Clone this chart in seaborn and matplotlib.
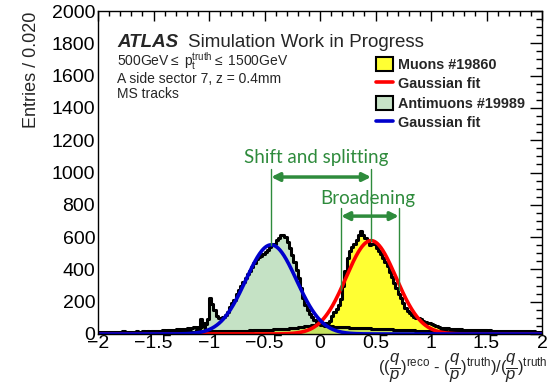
import numpy as np
import pandas as pd
import seaborn as sns
import matplotlib
matplotlib.use("Agg")
import matplotlib.pyplot as plt
from matplotlib.patches import Patch
from matplotlib.lines import Line2D
from matplotlib.ticker import MultipleLocator

# ---------------- data ----------------
x_min, x_max, n_bins = -2.0, 2.0, 200   # bins of 0.020

antimuon_counts = [
    12, 10, 14, 11, 13, 12, 15, 11, 13, 14,
    12, 16, 13, 14, 12, 15, 14, 17, 13, 15,
    16, 14, 18, 15, 17, 18, 16, 20, 19, 22,
    21, 24, 22, 26, 25, 28, 30, 27, 32, 34,
    36, 33, 38, 42, 40, 44, 46, 48, 60, 95,
    220, 185, 150, 112, 96, 100, 106, 116, 135, 170,
    195, 212, 250, 272, 295, 325, 345, 370, 392, 412,
    440, 462, 474, 482, 496, 510, 522, 540, 550, 555,
    580, 596, 612, 610, 598, 570, 535, 490, 445, 395,
    345, 282, 225, 180, 150, 125, 105, 88, 72, 62,
    56, 54, 52, 50, 48, 47, 46, 45, 44, 43,
    42, 42, 41, 40, 40, 39, 38, 38, 37, 36,
    36, 35, 35, 34, 33, 33, 32, 31, 31, 30,
    29, 29, 28, 27, 27, 26, 25, 25, 24, 24,
    23, 22, 22, 21, 21, 20, 20, 19, 19, 18,
    18, 17, 17, 16, 16, 15, 16, 15, 14, 15,
    14, 13, 14, 13, 12, 13, 12, 11, 12, 11,
    11, 10, 11, 10, 9, 10, 9, 10, 9, 8,
    9, 8, 9, 8, 7, 8, 7, 8, 7, 7,
    7, 6, 7, 6, 6, 7, 6, 5, 6, 5,
]

muon_counts = [
    4, 5, 3, 4, 5, 4, 3, 5, 4, 4,
    5, 4, 5, 6, 4, 5, 6, 5, 4, 6,
    5, 6, 7, 6, 5, 7, 6, 7, 8, 7,
    8, 7, 9, 8, 9, 10, 9, 11, 10, 12,
    12, 13, 14, 15, 22, 30, 90, 70, 25, 18,
    16, 15, 16, 15, 17, 16, 17, 18, 17, 18,
    18, 19, 18, 20, 19, 20, 21, 20, 22, 21,
    22, 23, 22, 24, 25, 24, 26, 27, 26, 28,
    29, 30, 31, 32, 33, 34, 36, 37, 39, 40,
    42, 44, 46, 48, 50, 52, 55, 57, 59, 60,
    62, 64, 66, 70, 78, 110, 135, 155, 180, 215,
    300, 390, 470, 515, 540, 560, 585, 610, 635, 615,
    595, 580, 550, 555, 560, 535, 515, 495, 470, 445,
    420, 385, 350, 315, 285, 250, 220, 190, 160, 140,
    128, 118, 108, 100, 96, 90, 80, 75, 70, 66,
    62, 55, 48, 44, 40, 38, 36, 35, 34, 33,
    32, 30, 30, 28, 27, 26, 25, 26, 24, 24,
    23, 24, 22, 23, 22, 21, 22, 21, 20, 21,
    20, 19, 20, 19, 18, 19, 18, 18, 17, 18,
    17, 16, 17, 16, 16, 15, 16, 15, 15, 14,
]

# Gaussian fit parameters (amplitude, mean, sigma)
muon_fit = (578.0, 0.46, 0.225)
antimuon_fit = (552.0, -0.44, 0.228)

legend_labels = ["Muons #19860", "Gaussian fit", "Antimuons #19989", "Gaussian fit"]
x_ticks = [-2, -1.5, -1, -0.5, 0, 0.5, 1, 1.5, 2]
x_tick_labels = ["\u22122", "\u22121.5", "\u22121", "\u22120.5", "0", "0.5", "1", "1.5", "2"]
y_ticks = [0, 200, 400, 600, 800, 1000, 1200, 1400, 1600, 1800, 2000]

# ---------------- style ----------------
sns.set_style("white")
plt.rcParams["font.family"] = ["Liberation Sans", "DejaVu Sans"]
plt.rcParams["mathtext.fontset"] = "custom"
plt.rcParams["mathtext.rm"] = "Liberation Sans"
plt.rcParams["mathtext.it"] = "Liberation Sans:italic"
plt.rcParams["mathtext.bf"] = "Liberation Sans:bold"

W, H = 548, 383
fig = plt.figure(figsize=(W / 100, H / 100), dpi=100)
L, R, T, B = 98, 542, 11, 334
ax = fig.add_axes([L / W, 1 - B / H, (R - L) / W, (B - T) / H])

width = (x_max - x_min) / n_bins
centers = x_min + width * (np.arange(n_bins) + 0.5)
df = pd.DataFrame({"x": centers,
                   "mu": np.asarray(muon_counts, float),
                   "amu": np.asarray(antimuon_counts, float)})

yellow = "#ffff33"
green_face = (0.55, 0.78, 0.55)
hkw = dict(data=df, x="x", bins=n_bins, binrange=(x_min, x_max), element="step", ax=ax)

# muons: fill + outline
sns.histplot(weights="mu", fill=True, color=yellow, alpha=1.0, linewidth=0, **hkw)
sns.histplot(weights="mu", fill=False, color="black", linewidth=2.2, **hkw)
# antimuons: fill + outline
sns.histplot(weights="amu", fill=True, color=green_face, alpha=0.5, linewidth=0, **hkw)
sns.histplot(weights="amu", fill=False, color="black", linewidth=2.2, **hkw)

# Gaussian fits
xf = np.linspace(x_min, x_max, 801)
def gauss(x, p):
    a, m, s = p
    return a * np.exp(-0.5 * ((x - m) / s) ** 2)

sns.lineplot(x=xf, y=gauss(xf, muon_fit), color="#ff0000", linewidth=2.6, ax=ax)
sns.lineplot(x=xf, y=gauss(xf, antimuon_fit), color="#0000cc", linewidth=2.6, ax=ax)

ax.set_xlim(x_min, x_max)
ax.set_ylim(0, 2000)
ax.set_xticks(x_ticks)
ax.set_xticklabels(x_tick_labels)
ax.set_yticks(y_ticks)
ax.xaxis.set_minor_locator(MultipleLocator(0.1))
ax.yaxis.set_minor_locator(MultipleLocator(50))
ax.tick_params(axis="both", which="both", direction="in", top=True, right=True,
               labelsize=14, width=1, colors="black")
ax.tick_params(axis="x", which="major", length=7, pad=1)
ax.tick_params(axis="x", which="minor", length=3.5)
ax.tick_params(axis="y", which="major", length=9, pad=2)
ax.tick_params(axis="y", which="minor", length=4.5)
for sp in ax.spines.values():
    sp.set_linewidth(1.0)
    sp.set_color("black")
ax.set_xlabel("")
ax.set_ylabel("")

fig.text(31 / W, 1 - 12 / H, "Entries / 0.020", rotation=90, ha="center", va="top",
         fontsize=13)

fig.text(0.999, -0.004,
         r"$((\dfrac{q}{p})^{\rm reco}$ - $(\dfrac{q}{p})^{\rm truth})/(\dfrac{q}{p})^{\rm truth}$",
         ha="right", va="bottom", fontsize=12)

# ATLAS label
fig.text(117 / W, 1 - 47 / H, "ATLAS", fontsize=13.5, fontweight="bold",
         fontstyle="italic", ha="left", va="baseline")
fig.text(188 / W, 1 - 47 / H, "Simulation Work in Progress", fontsize=13.5,
         ha="left", va="baseline")
fig.text(117 / W, 1 - 66 / H, r"500GeV$\leq$ p$_{\rm t}^{\rm truth}$$\leq$ 1500GeV",
         fontsize=10, ha="left", va="baseline")
fig.text(117 / W, 1 - 83 / H, "A side sector 7, z = 0.4mm", fontsize=10,
         ha="left", va="baseline")
fig.text(117 / W, 1 - 98 / H, "MS tracks", fontsize=10, ha="left", va="baseline")

# legend
handles = [
    Patch(facecolor=yellow, edgecolor="black", linewidth=1.5),
    Line2D([0], [0], color="#ff0000", linewidth=2.6),
    Patch(facecolor=(0.78, 0.89, 0.78), edgecolor="black", linewidth=1.5),
    Line2D([0], [0], color="#0000cc", linewidth=2.6),
]
fig.legend(handles, legend_labels, loc="upper left",
           bbox_to_anchor=(376 / W, 1 - 57 / H), frameon=False,
           prop={"weight": "bold", "size": 10.4}, handlelength=1.2,
           handleheight=1.1, handletextpad=0.3, labelspacing=0.32,
           borderaxespad=0, borderpad=0)

# annotations
gcol = "#2e8b3c"
ax.annotate("", xy=(-0.44, 972), xytext=(0.46, 972),
            arrowprops=dict(arrowstyle="<|-|>", color=gcol, lw=2.5, mutation_scale=12,
                            shrinkA=0, shrinkB=0))
ax.plot([-0.44, -0.44], [1020, 552], color=gcol, lw=1.0)
ax.plot([0.46, 0.46], [1020, 578], color=gcol, lw=1.0)
ax.annotate("", xy=(0.19, 730), xytext=(0.71, 730),
            arrowprops=dict(arrowstyle="<|-|>", color=gcol, lw=2.5, mutation_scale=12,
                            shrinkA=0, shrinkB=0))
ax.plot([0.19, 0.19], [780, 270], color=gcol, lw=1.0)
ax.plot([0.71, 0.71], [780, 270], color=gcol, lw=1.0)
ax.text(-0.036, 1090, "Shift and splitting", color=gcol, fontsize=13.5,
        family=["Lato", "DejaVu Sans"], ha="center", va="center")
ax.text(0.43, 836, "Broadening", color=gcol, fontsize=13.5,
        family=["Lato", "DejaVu Sans"], ha="center", va="center")

fig.savefig("out.png", dpi=100)
